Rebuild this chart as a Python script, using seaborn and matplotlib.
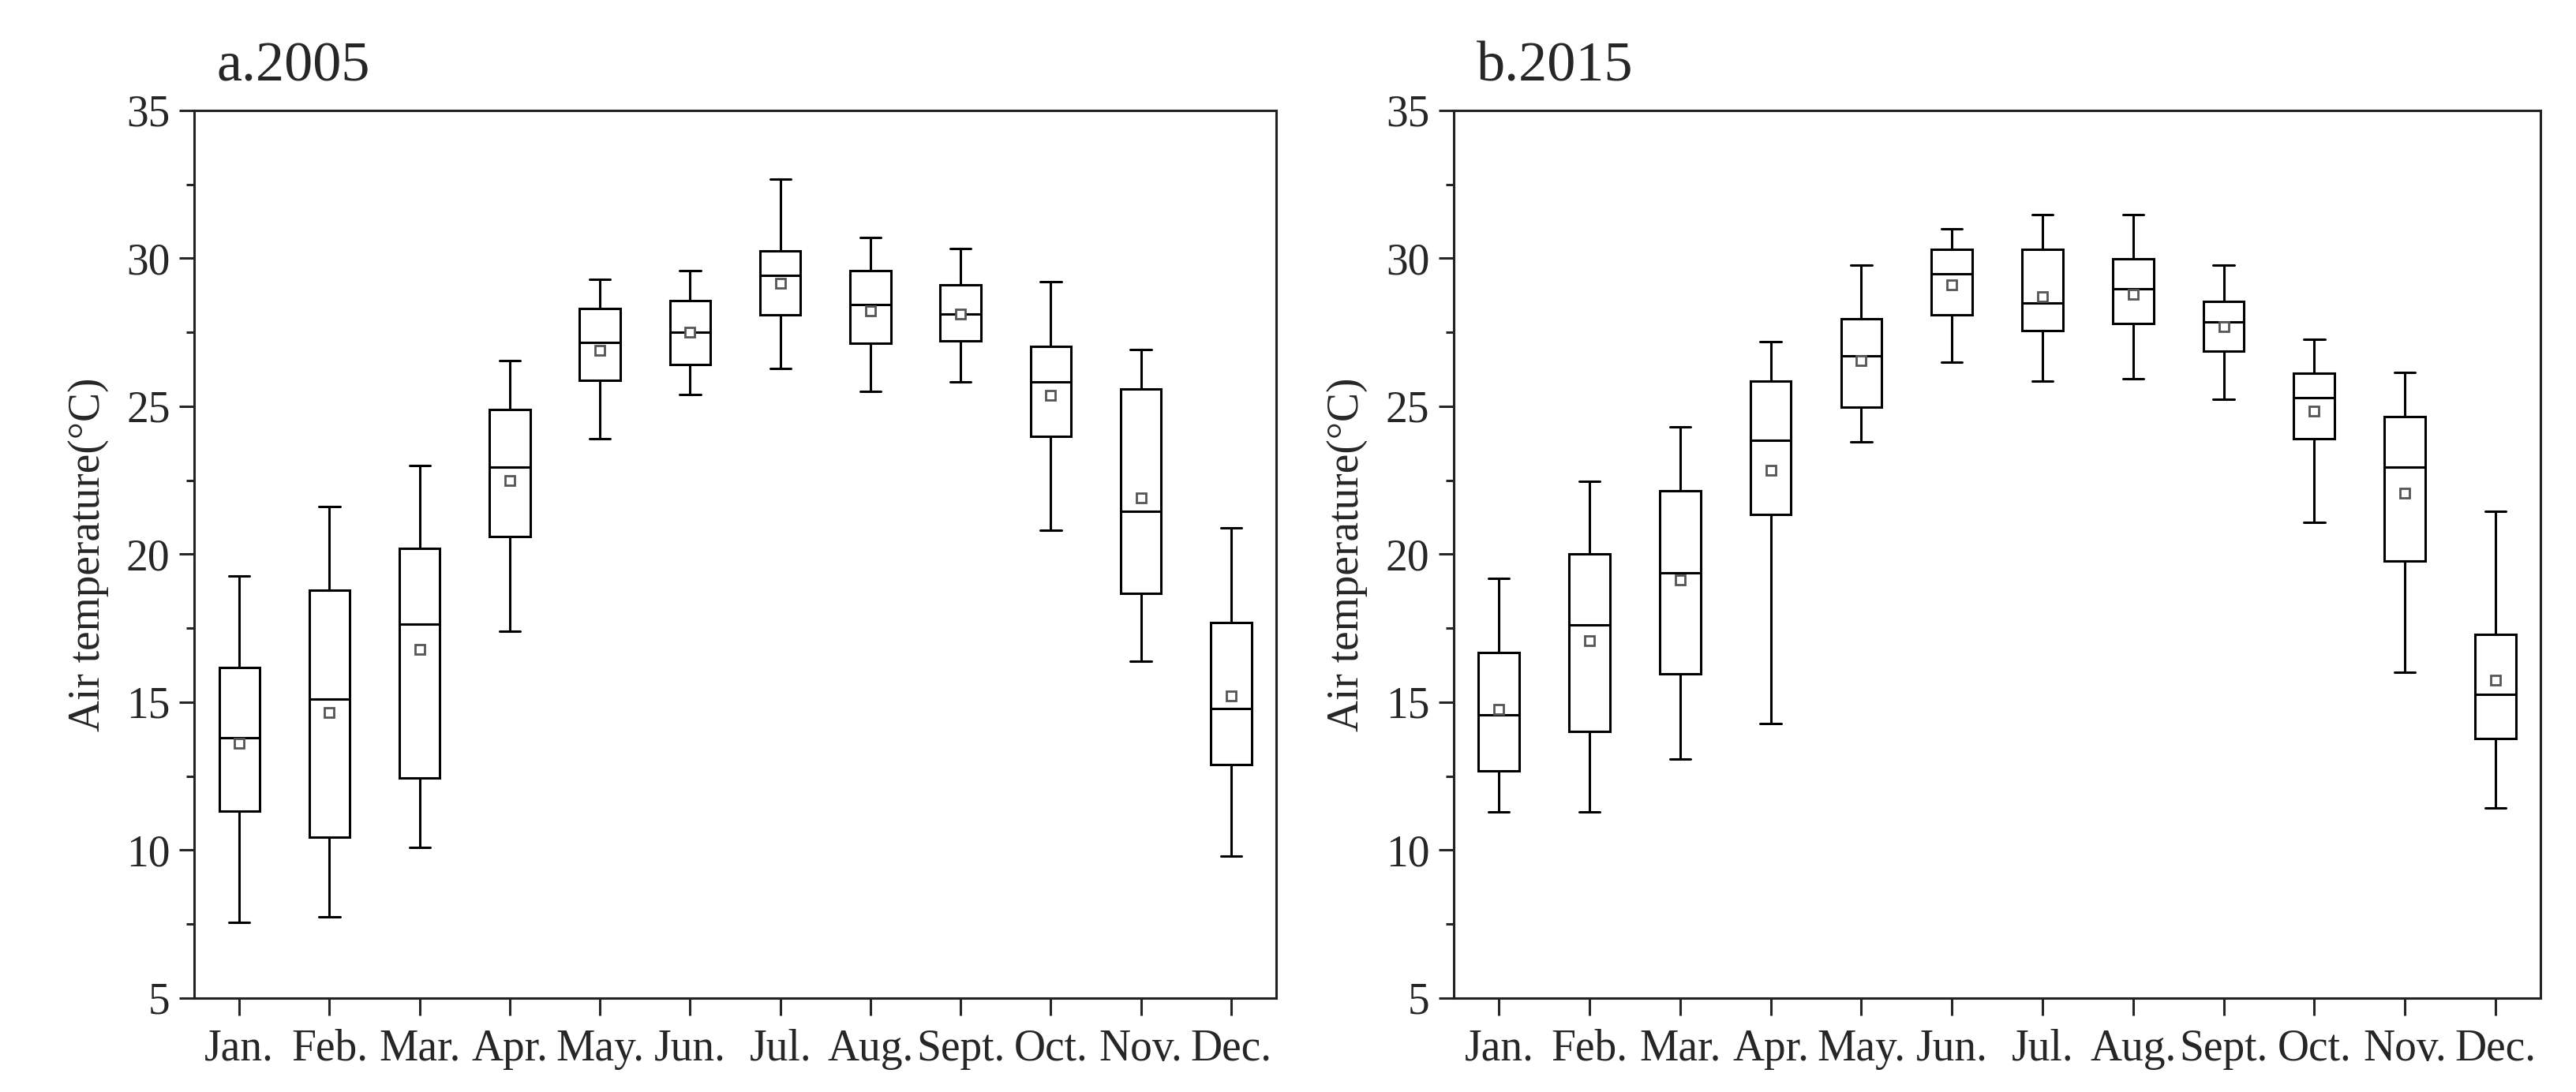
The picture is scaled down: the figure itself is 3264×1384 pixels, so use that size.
import matplotlib
matplotlib.use("Agg")
import matplotlib.pyplot as plt
from matplotlib.ticker import MultipleLocator
import seaborn as sns
import pandas as pd

months = ["Jan.", "Feb.", "Mar.", "Apr.", "May.", "Jun.", "Jul.", "Aug.", "Sept.", "Oct.", "Nov.", "Dec."]

# 2005
whislo_2005 = [7.56, 7.74, 10.09, 17.4, 23.89, 25.39, 26.28, 25.49, 25.81, 20.82, 16.39, 9.81]
q1_2005     = [11.31, 10.44, 12.45, 20.61, 25.88, 26.42, 28.09, 27.13, 27.2, 23.99, 18.69, 12.9]
med_2005    = [13.79, 15.1, 17.63, 22.93, 27.15, 27.5, 29.42, 28.44, 28.11, 25.81, 21.45, 14.78]
q3_2005     = [16.18, 18.78, 20.21, 24.9, 28.3, 28.58, 30.24, 29.59, 29.09, 27.03, 25.58, 17.68]
whishi_2005 = [19.27, 21.6, 23.0, 26.54, 29.28, 29.59, 32.68, 30.71, 30.34, 29.21, 26.91, 20.89]
mean_2005   = [13.6, 14.66, 16.79, 22.5, 26.9, 27.5, 29.16, 28.23, 28.11, 25.37, 21.9, 15.2]

# 2015
whislo_2015 = [11.29, 11.29, 13.08, 14.28, 23.79, 26.48, 25.84, 25.93, 25.23, 21.08, 16.0, 11.43]
q1_2015     = [12.68, 14.0, 15.97, 21.34, 24.97, 28.08, 27.56, 27.8, 26.85, 23.89, 19.77, 13.76]
med_2015    = [14.56, 17.6, 19.37, 23.86, 26.71, 29.47, 28.48, 28.97, 27.84, 25.28, 22.94, 15.27]
q3_2015     = [16.68, 20.02, 22.14, 25.84, 27.96, 30.29, 30.29, 29.98, 28.55, 26.12, 24.66, 17.29]
whishi_2015 = [19.18, 22.47, 24.29, 27.18, 29.77, 31.0, 31.47, 31.47, 29.77, 27.27, 26.14, 21.46]
mean_2015   = [14.77, 17.08, 19.13, 22.83, 26.55, 29.09, 28.71, 28.78, 27.68, 24.83, 22.05, 15.74]

titles = ["a.2005", "b.2015"]
ylabel = "Air temperature(\u00b0C)"

sns.set_style("ticks")
plt.rcParams["font.family"] = ["Liberation Serif", "DejaVu Serif"]
plt.rcParams["axes.linewidth"] = 1.1

fig = plt.figure(figsize=(16.32, 6.92), dpi=200)
ax_a = fig.add_axes([0.0754, 0.086, 0.420, 0.813])
ax_b = fig.add_axes([0.5643, 0.086, 0.422, 0.813])

datasets = [
    (whislo_2005, q1_2005, med_2005, q3_2005, whishi_2005, mean_2005),
    (whislo_2015, q1_2015, med_2015, q3_2015, whishi_2015, mean_2015),
]

lw = 1.1
for ax, data, title in zip([ax_a, ax_b], datasets, titles):
    wlo, q1, med, q3, whi, mn = data
    df = pd.DataFrame({"month": months, "mean": mn})
    sns.pointplot(data=df, x="month", y="mean", ax=ax, order=months,
                  linestyle="none", markers="s", color="white",
                  markersize=4.5, markeredgewidth=1.0, errorbar=None, zorder=5)
    for coll in ax.collections:
        coll.set_edgecolor("#555555")
    for line in ax.lines:
        line.set_markeredgecolor("#555555")
        line.set_markerfacecolor("white")
    stats = []
    for i in range(len(months)):
        stats.append({"whislo": wlo[i], "q1": q1[i], "med": med[i], "q3": q3[i],
                      "whishi": whi[i], "fliers": []})
    ax.bxp(stats, positions=list(range(len(months))), widths=0.45,
           showfliers=False, showmeans=False, patch_artist=True,
           boxprops=dict(facecolor="white", edgecolor="black", linewidth=lw),
           medianprops=dict(color="black", linewidth=lw),
           whiskerprops=dict(color="black", linewidth=lw),
           capprops=dict(color="black", linewidth=lw),
           capwidths=0.23, zorder=3, manage_ticks=False)
    ax.set_xlim(-0.5, 11.5)
    ax.set_ylim(5, 35)
    ax.set_xticks(range(len(months)))
    ax.set_xticklabels(months)
    ax.yaxis.set_major_locator(MultipleLocator(5))
    ax.yaxis.set_minor_locator(MultipleLocator(2.5))
    ax.tick_params(axis="x", direction="out", length=8, width=1.1, labelsize=20, pad=6)
    ax.tick_params(axis="y", which="major", direction="out", length=7, width=1.1, labelsize=20, pad=4)
    ax.tick_params(axis="y", which="minor", direction="out", length=3.5, width=1.1)
    ax.tick_params(top=False, right=False, which="both")
    for s in ax.spines.values():
        s.set_visible(True)
        s.set_linewidth(1.1)
        s.set_color("#222222")
    ax.set_xlabel("")
    ax.set_ylabel(ylabel, fontsize=20, labelpad=8)
    ax.text(0.021, 1.033, title, transform=ax.transAxes, fontsize=26,
            ha="left", va="baseline")

fig.savefig("out.png", dpi=200)
